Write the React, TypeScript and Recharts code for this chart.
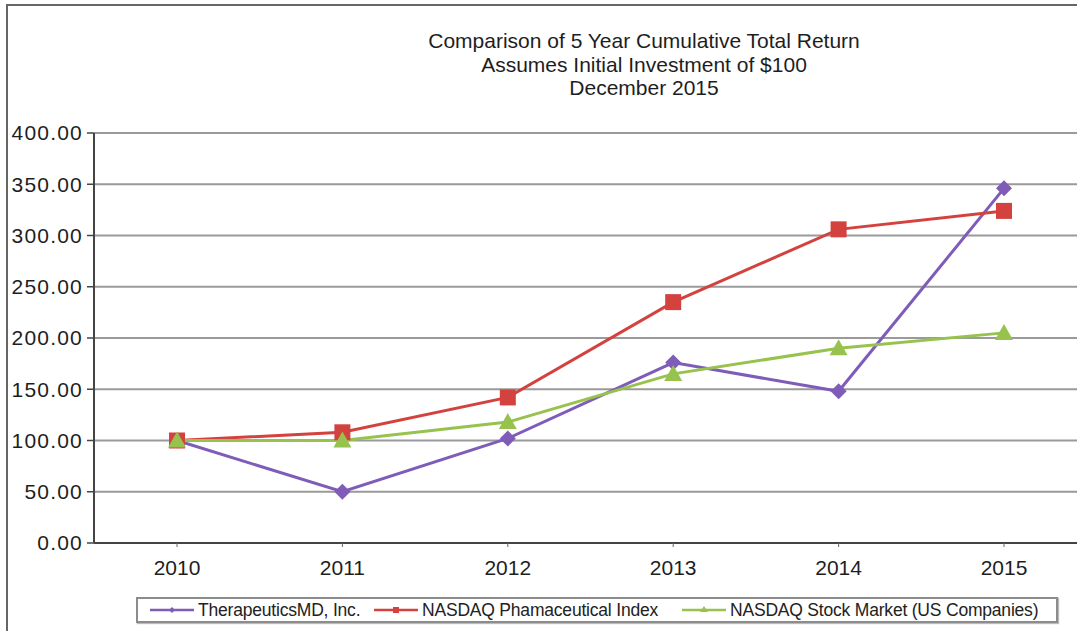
import { LineChart, Line, XAxis, YAxis, CartesianGrid } from 'recharts'

// Cumulative total return, $100 invested at the end of 2010
const years = ['2010', '2011', '2012', '2013', '2014', '2015']
const therapeuticsMD = [100, 50, 102, 176, 148, 346]
const nasdaqPharma = [100, 108, 142, 235, 306, 324]
const nasdaqMarket = [100, 100, 118, 165, 190, 205]
const yTicks = [0, 50, 100, 150, 200, 250, 300, 350, 400]

const titleLines = [
  'Comparison of 5 Year Cumulative Total Return',
  'Assumes Initial Investment of $100',
  'December 2015',
]

const PURPLE = '#7e5cb8'
const RED = '#d3423f'
const GREEN = '#98c24e'
const FONT = '"Liberation Sans", Arial, sans-serif'

const data = years.map((year, i) => ({
  year,
  thera: therapeuticsMD[i],
  pharma: nasdaqPharma[i],
  market: nasdaqMarket[i],
}))

type DotProps = { cx?: number; cy?: number; index?: number }

const diamond = (s: number, fill: string) => (p: DotProps) => {
  const { cx = 0, cy = 0, index } = p
  return (
    <path
      key={`d-${index}`}
      d={`M${cx},${cy - s} L${cx + s},${cy} L${cx},${cy + s} L${cx - s},${cy} Z`}
      fill={fill}
    />
  )
}

const square = (s: number, fill: string) => (p: DotProps) => {
  const { cx = 0, cy = 0, index } = p
  return <rect key={`s-${index}`} x={cx - s} y={cy - s} width={s * 2} height={s * 2} fill={fill} />
}

const triangle = (s: number, fill: string) => (p: DotProps) => {
  const { cx = 0, cy = 0, index } = p
  return (
    <path
      key={`t-${index}`}
      d={`M${cx},${cy - s - 1} L${cx + s + 1},${cy + s - 1} L${cx - s - 1},${cy + s - 1} Z`}
      fill={fill}
    />
  )
}

const series = [
  { key: 'thera', name: 'TherapeuticsMD, Inc.', color: PURPLE, dot: diamond, left: 150 },
  { key: 'pharma', name: 'NASDAQ Phamaceutical Index', color: RED, dot: square, left: 374 },
  { key: 'market', name: 'NASDAQ Stock Market (US Companies)', color: GREEN, dot: triangle, left: 682 },
]

function LegendBox() {
  return (
    <div
      style={{
        position: 'absolute',
        left: 136,
        top: 597,
        width: 918,
        height: 22,
        border: '2px solid #8c8c8c',
        boxShadow: '1px 1px 1px #bbb',
        background: '#fff',
        fontFamily: FONT,
        fontSize: 17.5,
        color: '#222',
      }}
    >
      {series.map((s) => (
        <div
          key={s.key}
          style={{ position: 'absolute', left: s.left - 138, top: 0, height: 22, display: 'flex', alignItems: 'center', whiteSpace: 'nowrap' }}
        >
          <svg width={44} height={14} style={{ marginRight: 4 }}>
            <line x1={0} y1={7} x2={44} y2={7} stroke={s.color} strokeWidth={2.5} />
            {s.dot(3, s.color)({ cx: 22, cy: 7, index: 0 })}
          </svg>
          <span style={{ letterSpacing: -0.2 }}>{s.name}</span>
        </div>
      ))}
    </div>
  )
}

export default function App() {
  return (
    <div
      style={{
        position: 'absolute',
        left: 0,
        top: 0,
        width: 1077,
        height: 631,
        overflow: 'hidden',
        background: '#fff',
      }}
    >
      <div
        style={{
          position: 'absolute',
          left: 6,
          top: 4,
          width: 1200,
          height: 700,
          border: '2px solid #666',
        }}
      />
      <div
        style={{
          position: 'absolute',
          left: 344,
          top: 29,
          width: 600,
          textAlign: 'center',
          fontFamily: FONT,
          fontSize: 21,
          lineHeight: '23.5px',
          color: '#1e1e1e',
        }}
      >
        {titleLines.map((t) => (
          <div key={t}>{t}</div>
        ))}
      </div>
      <div style={{ position: 'absolute', left: 0, top: 0 }}>
        <LineChart width={1100} height={631} data={data} margin={{ top: 133, right: 13, left: 0, bottom: 48 }}>
          <CartesianGrid vertical={false} stroke="#9a9a9a" strokeWidth={2} />
          <XAxis
            dataKey="year"
            height={40}
            padding={{ left: 83, right: 83 }}
            tickSize={4}
            tickMargin={13}
            axisLine={{ stroke: '#444', strokeWidth: 2 }}
            tickLine={{ stroke: '#666' }}
            tick={{ fontSize: 21, fontFamily: FONT, fill: '#1e1e1e' }}
          />
          <YAxis
            width={94}
            domain={[0, 400]}
            ticks={yTicks}
            interval={0}
            tickSize={7}
            tickMargin={4}
            tickFormatter={(v: number) => v.toFixed(2)}
            axisLine={{ stroke: '#444', strokeWidth: 2 }}
            tickLine={{ stroke: '#444', strokeWidth: 1.5 }}
            tick={{ fontSize: 21, fontFamily: FONT, fill: '#1e1e1e', letterSpacing: 1.2 }}
          />
          {series.map((s) => (
            <Line
              key={s.key}
              dataKey={s.key}
              name={s.name}
              type="linear"
              stroke={s.color}
              strokeWidth={3}
              dot={s.dot(8, s.color)}
              activeDot={false}
              isAnimationActive={false}
            />
          ))}
        </LineChart>
      </div>
      <LegendBox />
    </div>
  )
}
